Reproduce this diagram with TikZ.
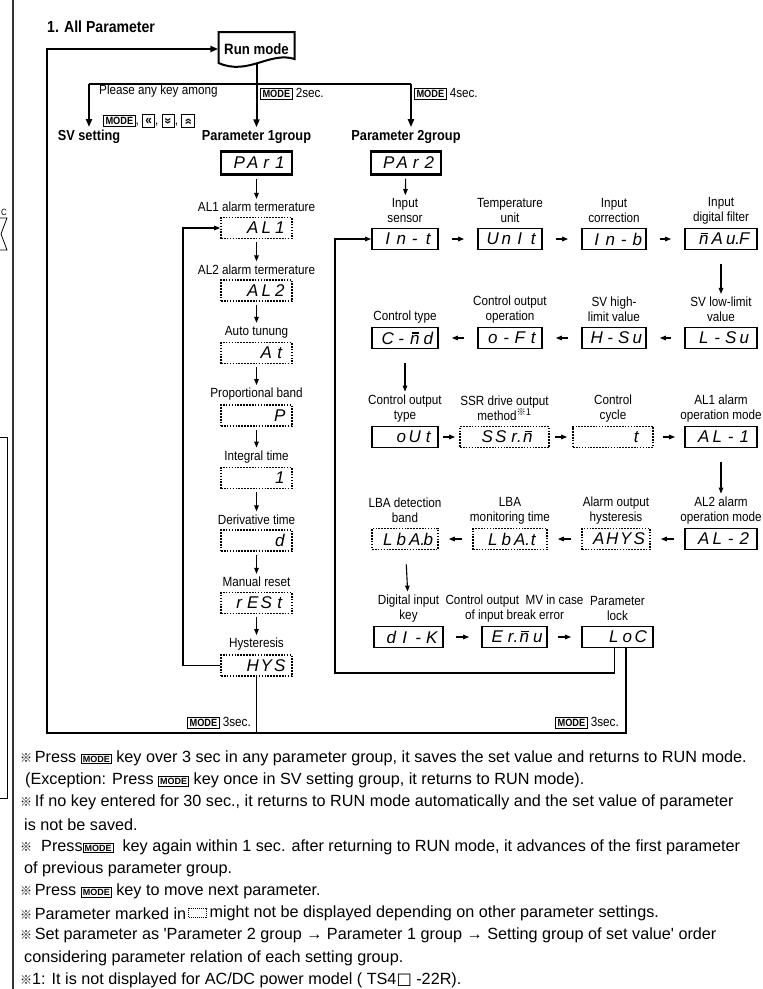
\documentclass[tikz,border=0pt]{standalone}
\usepackage{fontspec}
\setmainfont{Liberation Sans}[FakeStretch=0.88]
\newfontfamily\notefont{Liberation Sans}
\newfontfamily\segfont{Liberation Sans}
\newfontfamily\cjkfont{Noto Sans CJK SC}
\newfontfamily\dvfont{DejaVu Sans}
\usetikzlibrary{arrows.meta,calc,positioning}

\newcommand\refm{{\cjkfont\fontsize{12}{12}\selectfont ※}}
\newcommand\modekey{{\setlength\fboxsep{1.5pt}\setlength\fboxrule{0.8pt}\fbox{\bfseries\fontsize{10.5}{10.5}\selectfont MODE}}}
\newcommand\modekeyS{{\setlength\fboxsep{1.2pt}\setlength\fboxrule{0.8pt}\fbox{\bfseries\fontsize{9}{9}\selectfont MODE}}}
\newcommand\keybox[1]{{\setlength\fboxsep{0.8pt}\setlength\fboxrule{0.8pt}\fbox{\makebox[10pt][c]{\rule[-1.5pt]{0pt}{10.5pt}\bfseries #1}}}}
\newcommand\dg[1]{\makebox[13.5pt][c]{#1}}
\newcommand\nb{\makebox[0pt][l]{\raisebox{0.62em}{\hspace{0.1em}\rule{0.45em}{0.07em}}}n}
\newcommand\sd[4]{\hspace*{6pt}\dg{#1}\dg{#2}\dg{#3}\dg{#4}}

\tikzset{
 lbl/.style={font=\fontsize{13.3}{15}\selectfont, align=center, inner sep=0pt},
 ttl/.style={font=\bfseries\fontsize{14.5}{15}\selectfont, inner sep=0pt},
 dispbox/.style={draw, line width=1.7pt, minimum height=21pt, minimum width=#1, inner sep=0pt, font=\segfont\itshape\fontsize{17}{17}\selectfont},
 dispbox/.default=66pt,
 dotbox/.style={dispbox=#1, dash pattern=on 1.6pt off 1.3pt, line width=1.6pt},
 dotbox/.default=66pt,
 pbox/.style={dispbox=#1, line width=2.4pt, minimum height=23pt},
 pbox/.default=70pt,
 arr/.style={line width=1.1pt, -{Triangle[length=6pt,width=4.5pt]}},
 harr/.style={arr, shorten <=#1, shorten >=#1},
 varr/.style={arr, shorten <=#1, shorten >=3pt},
 frameline/.style={line width=2pt},
 bigarr/.style={line width=2pt, -{Triangle[length=8pt,width=6pt]}},
 notetxt/.style={font=\notefont\fontsize{16.2}{17}\selectfont, anchor=west, inner sep=0pt},
}

\begin{document}
\begin{tikzpicture}[x=1pt,y=-1pt]
\useasboundingbox (0,0) rectangle (763,989);
\fill[white] (0,0) rectangle (763,989);

% remnants of the neighbouring page
\draw[line width=1.3pt,black!80] (13,0) -- (13,989);
\node[font=\fontsize{9}{9}\selectfont, inner sep=0pt] (cdeg) at (4,212) {C};
\draw[line width=0.8pt] (0,218) -- (7,218) -- (1,234) -- (7,250) -- (0,250);
\draw[line width=0.9pt] (0,437) -- (7,437) -- (7,798) -- (0,798);

% title and run mode
\node[inner sep=0pt, anchor=west, font=\bfseries\fontsize{16}{17}\selectfont] (title) at (47,27) {1. All Parameter};
\node[font=\bfseries\fontsize{15}{15}\selectfont, inner sep=0pt, minimum width=76pt, minimum height=30pt] (run) at (256.5,49) {Run mode};
\draw[line width=2pt] (218.5,32) -- (294.5,32) -- (294.5,59) .. controls (270,51) and (248,76) .. (218.5,63) -- cycle;

% branches
\coordinate (bl) at (89,84);
\coordinate (br) at (411,84);
\draw[frameline] (bl) -- (br);
\node[ttl] (sv) at (89,137) {SV setting};
\node[ttl] (p1t) at (256.5,137) {Parameter 1group};
\node[ttl] (p2t) at (406,137) {Parameter 2group};
\draw[bigarr, shorten >=3pt] (run) -- (p1t);
\draw[bigarr, shorten >=3pt] (bl) -- (bl |- sv.north);
\draw[bigarr, shorten >=3pt] (br) -- (br |- p2t.north);
\node[lbl, anchor=west] (pk1) at (99,91) {Please any key among};
\node[lbl, anchor=west] (pk2) at (103,121) {\modekey, \keybox{«}, \keybox{\rotatebox[origin=c]{90}{«}}, \keybox{\rotatebox[origin=c]{-90}{«}}};
\node[lbl, anchor=west] (m2) at (260,94) {\modekey\ 2sec.};
\node[lbl, anchor=west] (m4) at (414,94) {\modekey\ 4sec.};

% parameter 1 group
\node[pbox=71pt] (par1) at (256.5,163) {\sd{P}{A}{r}{1}};
\node[lbl] (l11) at (256.5,207) {AL1 alarm termerature};
\node[dotbox=71pt] (al1) at (256.5,228) {\sd{}{A}{L}{1}};
\node[lbl] (l12) at (256.5,269.5) {AL2 alarm termerature};
\node[dotbox=71pt] (al2) at (256.5,290.5) {\sd{}{A}{L}{2}};
\node[lbl] (l13) at (256.5,332) {Auto tunung};
\node[dotbox=71pt] (at) at (256.5,353) {\sd{}{}{A}{t}};
\node[lbl] (l14) at (256.5,394.5) {Proportional band};
\node[dotbox=71pt] (pb) at (256.5,415.5) {\sd{}{}{}{P}};
\node[lbl] (l15) at (256.5,457) {Integral time};
\node[dotbox=71pt] (it) at (256.5,478) {\sd{}{}{}{1}};
\node[lbl] (l16) at (256.5,519.5) {Derivative time};
\node[dotbox=71pt] (dt) at (256.5,540.5) {\sd{}{}{}{d}};
\node[lbl] (l17) at (256.5,582) {Manual reset};
\node[dotbox=71pt] (rst) at (256.5,603) {\sd{r}{E}{S}{t}};
\node[lbl] (l18) at (256.5,644.5) {Hysteresis};
\node[dotbox=71pt] (hys) at (256.5,665.5) {\sd{}{H}{Y}{S}};
\draw[varr=3pt] (par1) -- (l11);
\draw[varr=3pt] (al1) -- (l12);
\draw[varr=3pt] (al2) -- (l13);
\draw[varr=3pt] (at) -- (l14);
\draw[varr=3pt] (pb) -- (l15);
\draw[varr=3pt] (it) -- (l16);
\draw[varr=3pt] (dt) -- (l17);
\draw[varr=3pt] (rst) -- (l18);
\coordinate (p1l) at (183,450);
\draw[arr] (hys.west) -| (p1l) |- (al1.west);

% parameter 2 group
\node[pbox=70pt] (par2) at (406,163) {\sd{P}{A}{r}{2}};
% row 1
\node[lbl] (r1a) at (405,210.5) {Input\\sensor};
\node[lbl] (r1b) at (510,210.5) {Temperature\\unit};
\node[lbl] (r1c) at (614,210.5) {Input\\correction};
\node[lbl] (r1d) at (721,210.5) {Input\\digital filter};
\node[dispbox] (int) at (405,239) {\sd{I}{n}{-}{t}};
\node[dispbox=64pt] (unit) at (510,239) {\sd{U}{n}{I}{t}};
\node[dispbox=64pt] (inb) at (614,239) {\sd{I}{n}{-}{b}};
\node[dispbox=72pt] (nauf) at (721,239) {\sd{\nb}{A}{u\rlap{.}}{F}};
\draw[varr=3pt] (par2) -- (r1a);
\draw[harr=13pt] (int) -- (unit);
\draw[harr=13pt] (unit) -- (inb);
\draw[harr=13pt] (inb) -- (nauf);
% row 2
\node[lbl] (r2a) at (405,317) {Control type};
\node[lbl] (r2b) at (510,309.5) {Control output\\operation};
\node[lbl] (r2c) at (614,309.5) {SV high-\\limit value};
\node[lbl] (r2d) at (721,309.5) {SV low-limit\\value};
\node[dispbox] (cmd) at (405,338) {\sd{C}{-}{\nb}{d}};
\node[dispbox=64pt] (oft) at (510,338) {\sd{o}{-}{F}{t}};
\node[dispbox=64pt] (hsv) at (614,338) {\sd{H}{-}{S}{u}};
\node[dispbox=72pt] (lsv) at (721,338) {\sd{L}{-}{S}{u}};
\draw[varr=14pt] (nauf) -- (r2d);
\draw[harr=13pt] (lsv) -- (hsv);
\draw[harr=13pt] (hsv) -- (oft);
\draw[harr=13pt] (oft) -- (cmd);
% row 3
\node[lbl] (r3a) at (405,408.5) {Control output\\type};
\node[lbl] (r3b) at (504.5,408.5) {SSR drive output\\method\textsuperscript{\cjkfont ※1}};
\node[lbl] (r3c) at (613,408.5) {Control\\cycle};
\node[lbl] (r3d) at (721,408.5) {AL1 alarm\\operation mode};
\node[dispbox] (out) at (405,437) {\sd{}{o}{U}{t}};
\node[dotbox=89pt] (ssr) at (504.5,437) {\sd{S}{S}{r\rlap{.}}{\nb}};
\node[dotbox=80pt] (tcy) at (613,437) {\sd{}{}{}{t}};
\node[dispbox=72pt] (al1m) at (721,437) {\sd{A}{L}{-}{1}};
\draw[varr=14pt] (cmd) -- (r3a);
\draw[harr=4pt] (out) -- (ssr);
\draw[harr=5pt] (ssr) -- (tcy);
\draw[harr=9pt] (tcy) -- (al1m);
% row 4
\node[lbl] (r4a) at (405,510.5) {LBA detection\\band};
\node[lbl] (r4b) at (510,510.5) {LBA\\monitoring time};
\node[lbl] (r4c) at (616,510.5) {Alarm output\\hysteresis};
\node[lbl] (r4d) at (721,510.5) {AL2 alarm\\operation mode};
\node[dotbox] (lbab) at (405,539) {\sd{L}{b}{A\rlap{.}}{b}};
\node[dotbox=74pt] (lbat) at (510,539) {\sd{L}{b}{A\rlap{.}}{t}};
\node[dotbox=68pt] (ahys) at (616,539) {\sd{A}{H}{Y}{S}};
\node[dispbox=72pt] (al2m) at (721,539) {\sd{A}{L}{-}{2}};
\draw[varr=14pt] (al1m) -- (r4d);
\draw[harr=10pt] (al2m) -- (ahys);
\draw[harr=10pt] (ahys) -- (lbat);
\draw[harr=10pt] (lbat) -- (lbab);
% row 5
\node[lbl] (r5a) at (408.5,608.5) {Digital input\\key};
\node[lbl] (r5b) at (514.5,608.5) {Control output\ \ MV in case\\of input break error};
\node[lbl] (r5c) at (617.5,608.5) {Parameter\\lock};
\node[dispbox=69pt] (dik) at (408.5,637) {\sd{d}{I}{-}{K}};
\node[dispbox=65pt] (ermu) at (514.5,637) {\sd{E}{r\rlap{.}}{\nb}{u}};
\node[dispbox=71pt] (loc) at (617.5,637) {\sd{}{L}{o}{C}};
\draw[varr=14pt] (lbab) -- (r5a);
\draw[harr=12pt] (dik) -- (ermu);
\draw[harr=10pt] (ermu) -- (loc);
\coordinate (p2l) at (335,673);
\draw[arr] ([xshift=-3pt]loc.south) |- (p2l) |- (int.west);

% outer return frame
\coordinate (fbl) at (47,733);
\draw[frameline, -{Triangle[length=8pt,width=6pt]}] ([xshift=8pt]loc.south) |- (fbl) |- (run.west);
\draw[line width=1.4pt] (hys.south) -- (hys.south |- fbl);
\node[lbl, anchor=east] (m3a) at (251,723) {\modekey\ 3sec.};
\node[lbl, anchor=east] (m3b) at (619,723) {\modekey\ 3sec.};

% notes
\node[notetxt] (n1) at (20,758) {\refm\,Press \modekeyS\ key over 3 sec in any parameter group, it saves the set value and returns to RUN mode.};
\node[notetxt] (n2) at (25,780.2) {(Exception: Press \modekeyS\ key once in SV setting group, it returns to RUN mode).};
\node[notetxt] (n3) at (20,802.4) {\refm\,If no key entered for 30 sec., it returns to RUN mode automatically and the set value of parameter};
\node[notetxt] (n4) at (24,824.6) {is not be saved.};
\node[notetxt] (n5) at (20,846.8) {\refm\ \ Press\modekeyS\ \ key again within 1 sec. after returning to RUN mode, it advances of the first parameter};
\node[notetxt] (n6) at (24,869) {of previous parameter group.};
\node[notetxt] (n7) at (20,891.2) {\refm\,Press \modekeyS\ key to move next parameter.};
\node[notetxt] (n8a) at (20,913.4) {\refm\,Parameter marked in};
\node[draw, dash pattern=on 1pt off 1pt, line width=1pt, minimum width=18pt, minimum height=9pt, inner sep=0pt, right=2pt of n8a] (n8b) {};
\node[notetxt, right=2pt of n8b] (n8c) {might not be displayed depending on other parameter settings.};
\node[notetxt] (n9) at (20,935.6) {\refm\,Set parameter as \textquotesingle Parameter 2 group → Parameter 1 group → Setting group of set value\textquotesingle\ order};
\node[notetxt] (n10) at (24,957.8) {considering parameter relation of each setting group.};
\node[notetxt] (n11) at (20,980) {\refm 1: It is not displayed for AC/DC power model ( TS4{\dvfont □} -22R).};
\end{tikzpicture}
\end{document}
